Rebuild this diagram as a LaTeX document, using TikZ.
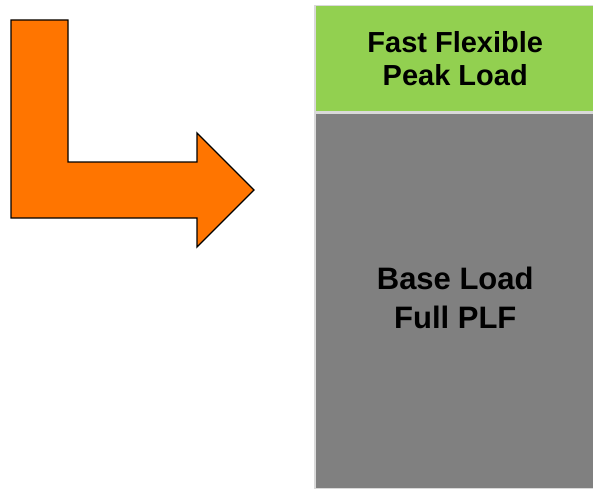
\documentclass[tikz,border=0pt]{standalone}
\usepackage{fontspec}
\setmainfont{Liberation Sans}
\definecolor{turnorange}{RGB}{255,117,0}
\definecolor{peakgreen}{RGB}{146,208,80}
\definecolor{basegray}{RGB}{128,128,128}
\definecolor{framegray}{RGB}{217,217,217}
\usepackage{tikz}
\usetikzlibrary{positioning}

\begin{document}
\begin{tikzpicture}[
      x=1pt, y=-1pt,
      panel/.style={draw=framegray, line width=1.5pt, anchor=north west, minimum width=281pt, inner sep=0pt, align=center, font=\bfseries\fontsize{29}{33}\selectfont},
      turnarrow/.style={draw=black, line width=1.3pt, fill=turnorange, line join=miter}
    ]
      \useasboundingbox (0,0) rectangle (593,489);

      % Bent arrow
      \draw[turnarrow] (11,20) -- (68,20) -- (68,162) -- (197,162) -- (197,133)
        -- (254,190) -- (197,247) -- (197,218) -- (11,218) -- cycle;

      % Load blocks
      \node[panel, fill=peakgreen, minimum height=106pt] (peak) at (314,5) {Fast Flexible\\Peak Load};
      \node[panel, fill=basegray, minimum height=375pt, font=\bfseries\fontsize{31}{39}\selectfont, text depth=5pt, below=0pt of peak.south west, anchor=north west] (base) {Base Load\\Full PLF};
    \end{tikzpicture}
\end{document}
